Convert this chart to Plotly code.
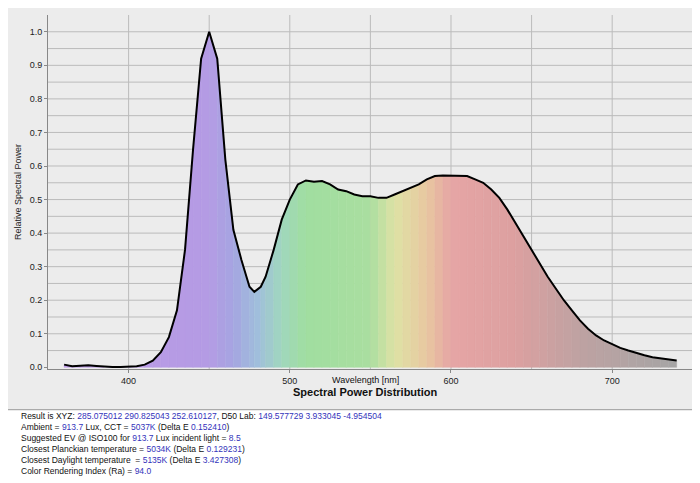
import plotly.graph_objects as go

wavelength = [360, 365, 370, 375, 380, 385, 390, 395, 400, 405, 410, 415, 420, 425, 430, 435,
              440, 445, 450, 455, 460, 465, 470, 475, 478, 482, 485, 490, 495, 500, 505, 510,
              515, 520, 525, 530, 535, 540, 545, 550, 555, 560, 565, 570, 575, 580, 585, 590,
              595, 600, 605, 610, 615, 620, 625, 630, 635, 640, 645, 650, 655, 660, 665, 670,
              675, 680, 685, 690, 695, 700, 705, 710, 715, 720, 725, 730, 735, 740]
power = [0.008, 0.003, 0.005, 0.006, 0.004, 0.002, 0.001, 0.001, 0.002, 0.003, 0.008, 0.02,
         0.045, 0.09, 0.17, 0.35, 0.65, 0.92, 1.0, 0.92, 0.62, 0.41, 0.32, 0.24, 0.225, 0.24,
         0.27, 0.35, 0.44, 0.5, 0.545, 0.557, 0.553, 0.555, 0.545, 0.53, 0.525, 0.515, 0.51,
         0.51, 0.505, 0.505, 0.515, 0.525, 0.535, 0.545, 0.56, 0.57, 0.572, 0.572, 0.572, 0.57,
         0.56, 0.55, 0.53, 0.505, 0.47, 0.43, 0.39, 0.35, 0.31, 0.27, 0.235, 0.2, 0.17, 0.14,
         0.115, 0.095, 0.08, 0.068, 0.058, 0.05, 0.042, 0.036, 0.03, 0.026, 0.022, 0.02]

# approximate fill colour per wavelength band
color_stops = [(360, (190, 155, 230)), (450, (180, 155, 228)), (465, (165, 165, 225)),
               (480, (160, 190, 220)), (495, (160, 215, 190)), (510, (160, 222, 160)),
               (550, (170, 222, 160)), (565, (222, 226, 165)), (585, (232, 200, 160)),
               (600, (230, 165, 165)), (640, (220, 160, 160)), (680, (190, 162, 162)),
               (740, (165, 165, 165))]


def band_color(w):
    for (w0, c0), (w1, c1) in zip(color_stops, color_stops[1:]):
        if w0 <= w <= w1:
            t = (w - w0) / (w1 - w0)
            r, g, b = (round(a + (b_ - a) * t) for a, b_ in zip(c0, c1))
            return f"rgb({r},{g},{b})"
    return "rgb(165,165,165)"


fig = go.Figure()
for i in range(len(wavelength) - 1):
    x0, x1 = wavelength[i], wavelength[i + 1]
    y0, y1 = power[i], power[i + 1]
    c = band_color((x0 + x1) / 2)
    fig.add_trace(go.Scatter(
        x=[x0, x1, x1, x0, x0], y=[y0, y1, 0, 0, y0], mode="lines", fill="toself",
        fillcolor=c, line=dict(width=0.5, color=c), hoverinfo="skip", showlegend=False))
fig.add_trace(go.Scatter(x=wavelength, y=power, mode="lines",
                         line=dict(color="black", width=2), showlegend=False))

blue = "#3333bb"
info = (
    f"Result is XYZ: <span style='color:{blue}'>285.075012 290.825043 252.610127</span>, D50 Lab: "
    f"<span style='color:{blue}'>149.577729 3.933045 -4.954504</span><br>"
    f"Ambient = <span style='color:{blue}'>913.7</span> Lux, CCT = <span style='color:{blue}'>5037K</span>"
    f" (Delta E <span style='color:{blue}'>0.152410</span>)<br>"
    f"Suggested EV @ ISO100 for <span style='color:{blue}'>913.7</span> Lux incident light = "
    f"<span style='color:{blue}'>8.5</span><br>"
    f"Closest Planckian temperature = <span style='color:{blue}'>5034K</span> (Delta E "
    f"<span style='color:{blue}'>0.129231</span>)<br>"
    f"Closest Daylight temperature  = <span style='color:{blue}'>5135K</span> (Delta E "
    f"<span style='color:{blue}'>3.427308</span>)<br>"
    f"Color Rendering Index (Ra) = <span style='color:{blue}'>94.0</span>"
)

fig.update_layout(
    width=700, height=483,
    margin=dict(l=40, r=12, t=7, b=122),
    paper_bgcolor="#ececec", plot_bgcolor="#ececec",
    font=dict(family="Liberation Sans, Arial", size=9, color="#222"),
    xaxis=dict(range=[350, 752], tickvals=[400, 500, 600, 700], showgrid=False,
               zeroline=False, showline=True, linecolor="#888", ticks="outside",
               ticklen=3, tickcolor="#888"),
    yaxis=dict(range=[-0.005, 1.05], tickvals=[i / 10 for i in range(11)], tickformat=".1f",
               showgrid=False, zeroline=False, showline=True, linecolor="#888",
               ticks="outside", ticklen=3, tickcolor="#888",
               title=dict(text="Relative Spectral Power", standoff=6, font=dict(size=9))),
    shapes=[dict(type="line", xref="x", yref="paper", x0=g, x1=g, y0=0, y1=1,
                 line=dict(color="#bbb", width=1), layer="below")
            for g in range(400, 751, 50)]
    + [dict(type="line", xref="paper", yref="y", x0=0, x1=1, y0=v / 20, y1=v / 20,
            line=dict(color="#bbb", width=1), layer="below") for v in range(1, 21)]
    + [dict(type="rect", xref="paper", yref="paper", x0=-0.07, x1=1.03, y0=-0.36, y1=-0.115,
            fillcolor="white", line=dict(color="#999", width=1))],
    annotations=[
        dict(text="Wavelength [nm]", xref="paper", yref="paper", x=0.49, y=-0.05,
             showarrow=False, font=dict(size=9, color="#111")),
        dict(text="<b>Spectral Power Distribution</b>", xref="paper", yref="paper",
             x=0.49, y=-0.088, showarrow=False, font=dict(size=11, color="#111")),
        dict(text=info, xref="paper", yref="paper", x=-0.045, y=-0.113, xanchor="left",
             yanchor="top", align="left", showarrow=False, font=dict(size=8.5, color="#111")),
    ],
)

fig.write_html("out.html")
